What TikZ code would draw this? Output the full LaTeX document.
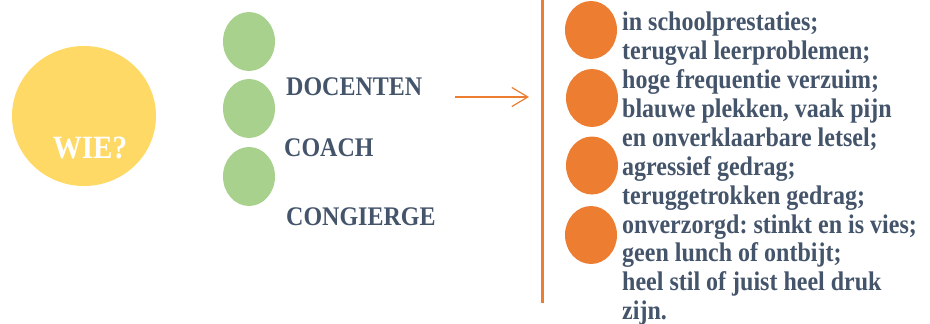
\documentclass[tikz,border=0pt]{standalone}
\usepackage{fontspec}
\setmainfont{Liberation Serif}
\frenchspacing
\usetikzlibrary{arrows.meta,shapes.geometric}
\definecolor{wieyellow}{HTML}{FFD966}
\definecolor{dotgreen}{HTML}{A9D18E}
\definecolor{dotorange}{HTML}{ED7D31}
\definecolor{slate}{HTML}{44546A}
\newcommand{\tallt}[1]{\scalebox{1}[1.12]{#1}}
\begin{document}
\begin{tikzpicture}[x=1pt,y=1pt,
  gdot/.style={ellipse,fill=dotgreen,minimum width=52pt,minimum height=59pt,inner sep=0},
  odot/.style={ellipse,fill=dotorange,minimum width=52pt,minimum height=58pt,inner sep=0},
  role/.style={anchor=base west,inner sep=0,text=slate,font=\fontsize{24}{29}\selectfont\bfseries},
  item/.style={anchor=base west,inner sep=0,text=slate,font=\fontsize{24}{29}\selectfont\bfseries}]
\useasboundingbox (0,0) rectangle (930,-324);
% yellow circle
\node[ellipse,fill=wieyellow,minimum width=144pt,minimum height=140pt,inner sep=0] (wie) at (84,-116) {};
\node[anchor=base,inner sep=0,text=white,font=\fontsize{29}{30}\selectfont\bfseries] (wiet) at (90,-158) {\tallt{WIE?}};
% green dots
\node[gdot] (g1) at (249,-41.5) {};
\node[gdot] (g2) at (249,-108.5) {};
\node[gdot] (g3) at (249,-176.5) {};
\node[role] (r1) at (286,-95) {\tallt{DOCENTEN}};
\node[role] (r2) at (284,-156) {\tallt{COACH}};
\node[role] (r3) at (286,-225) {\tallt{CONGIERGE}};
% arrow
\coordinate (as) at (455,-97);
\coordinate (ae) at (529,-97);
\draw[dotorange,line width=1.2pt,-{Straight Barb[length=16pt,width=19pt,line width=1.2pt]}] (as) -- (ae);
% vertical line
\coordinate (vt) at (542,0);
\coordinate (vb) at (542,-303);
\draw[dotorange,line width=3pt] (vt) -- (vb);
% orange dots
\node[odot] (o1) at (591,-30) {};
\node[odot] (o2) at (592,-98) {};
\node[odot] (o3) at (592,-165.5) {};
\node[odot] (o4) at (591,-235) {};
% list text
\foreach \t [count=\i] in {in schoolprestaties;,terugval leerproblemen;,hoge frequentie verzuim;,{blauwe plekken, vaak pijn},en onverklaarbare letsel;,agressief gedrag;,teruggetrokken gedrag;,onverzorgd: stinkt en is vies;,geen lunch of ontbijt;,heel stil of juist heel druk,zijn.}
  \node[item] (t\i) at (622,{-30.7-28.9*(\i-1)}) {\tallt{\t}};
\end{tikzpicture}
\end{document}
